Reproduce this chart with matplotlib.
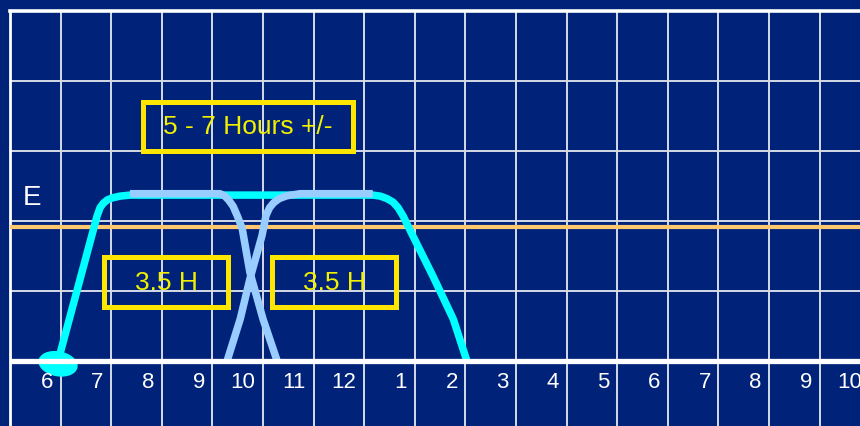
import matplotlib
matplotlib.use("Agg")
import matplotlib.pyplot as plt
from matplotlib import font_manager
from matplotlib.patches import Rectangle, Ellipse

# Hour axis: gridlines on whole hours, clock labels 6 a.m. to 10 p.m.
hours = list(range(6, 23))
hour_labels = ["6", "7", "8", "9", "10", "11", "12", "1", "2", "3",
               "4", "5", "6", "7", "8", "9", "10"]

# Alertness level of the full wake period (cyan)
wake_x = [5.95, 6.72, 6.78, 6.84, 6.92, 7.02, 7.17, 7.37, 12.17, 12.32,
          12.45, 12.57, 12.67, 12.77, 12.96, 13.36, 13.76, 14.03]
wake_y = [0.0, 2.07, 2.19, 2.25, 2.30, 2.33, 2.355, 2.37, 2.37, 2.355,
          2.32, 2.27, 2.19, 2.07, 1.79, 1.21, 0.60, 0.0]

# First 3.5 hour block (light blue)
block1_x = [7.37, 9.15, 9.24, 9.32, 9.41, 9.50, 9.59, 9.74, 10.00, 10.28]
block1_y = [2.39, 2.39, 2.36, 2.30, 2.21, 2.06, 1.89, 1.27, 0.60, 0.0]

# Second 3.5 hour block (light blue)
block2_x = [9.29, 9.55, 9.74, 9.98, 10.06, 10.13, 10.21, 10.32, 10.47,
            10.73, 12.17]
block2_y = [0.0, 0.60, 1.17, 1.79, 2.08, 2.19, 2.26, 2.32, 2.36, 2.39, 2.39]

threshold = 1.92      # orange reference level
e_level = 2.34        # position of the "E" marker

BG = "#002379"
GRID = "#d6dbe8"
CYAN = "#00ffff"
LIGHT = "#99ccff"
ORANGE = "#ffc86e"
BOX = "#ffe600"
TXT = "#f2f000"

installed = {f.name for f in font_manager.fontManager.ttflist}
if "Liberation Sans Narrow" in installed:
    tick_font = dict(family="Liberation Sans Narrow", fontsize=16.5)
else:
    tick_font = dict(family=["Liberation Sans", "DejaVu Sans"], fontsize=16)

fig = plt.figure(figsize=(8.6, 4.27), dpi=100)
fig.patch.set_facecolor(BG)

x0 = 5.0
x1 = x0 + 850 / 50.6
ax = fig.add_axes([10 / 860, 0.0, 1 - 10 / 860, 415 / 427])
ax.set_facecolor(BG)
ax.set_xlim(x0, x1)
ax.set_ylim(-65 / 70, 5.0)
for s in ax.spines.values():
    s.set_visible(False)
ax.set_xticks([])
ax.set_yticks([])

# Grid
for h in range(5, 22):
    ax.axvline(h, color=GRID, lw=1.4, zorder=1)
for v in [1, 2, 3, 4]:
    ax.axhline(v, color=GRID, lw=1.4, zorder=1)
ax.axhline(5.0, color="white", lw=2.6, zorder=1, clip_on=False)
ax.axvline(5.0, color="white", lw=2.0, zorder=1, clip_on=False)

# Orange reference line
ax.axhline(threshold, color=ORANGE, lw=3.0, zorder=2)

# Curves
ax.add_patch(Ellipse((5.95, -0.04), 0.75, 0.34, angle=-6, color=CYAN, zorder=3))
ax.plot(wake_x, wake_y, color=CYAN, lw=5.4, zorder=3,
        solid_capstyle="butt", solid_joinstyle="round")
ax.plot(block1_x, block1_y, color=LIGHT, lw=5.4, zorder=4,
        solid_capstyle="butt", solid_joinstyle="round")
ax.plot(block2_x, block2_y, color=LIGHT, lw=5.4, zorder=4,
        solid_capstyle="butt", solid_joinstyle="round")

# Baseline
ax.axhline(0.0, color="white", lw=3.8, zorder=5)

# Hour labels
for h, lab in zip(hours, hour_labels):
    ax.text(h - 0.15, -0.30, lab, ha="right", va="center", color="white",
            zorder=6, clip_on=False, **tick_font)

# "E" marker
ax.text(5.43, e_level, "E", ha="center", va="center", color="white",
        fontsize=20, family=["Liberation Sans", "DejaVu Sans"], zorder=6)

# Annotation boxes
def box(xa, xb, ya, yb, label):
    ax.add_patch(Rectangle((xa, ya), xb - xa, yb - ya, fill=False,
                           edgecolor=BOX, lw=3.6, zorder=6))
    ax.text((xa + xb) / 2, (ya + yb) / 2, label, ha="center", va="center",
            color=TXT, fontsize=19, family=["Liberation Sans", "DejaVu Sans"],
            zorder=7)

box(7.63, 11.78, 3.0, 3.7, "5 - 7 Hours +/-")
box(6.86, 9.31, 0.77, 1.49, "3.5 H")
box(10.18, 12.63, 0.77, 1.49, "3.5 H")

fig.savefig("out.png", dpi=100, facecolor=BG)
